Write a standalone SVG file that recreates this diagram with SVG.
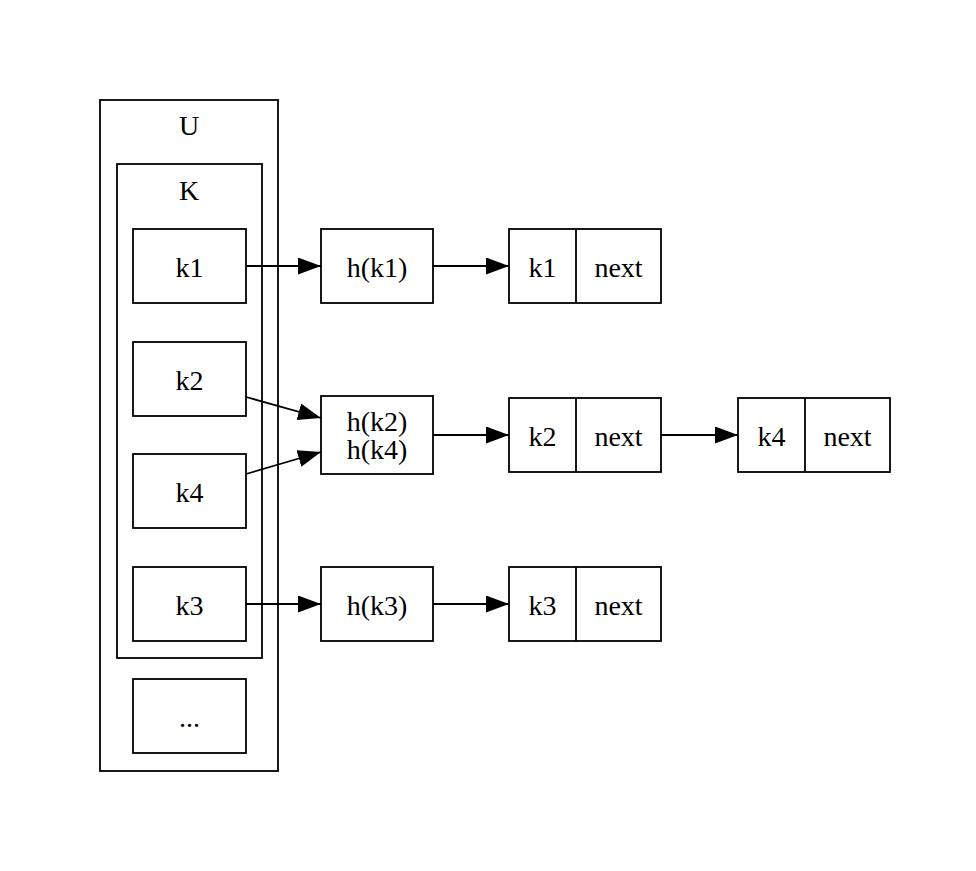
<svg xmlns="http://www.w3.org/2000/svg" width="976" height="871" viewBox="0 0 976 871">
<style>
rect{fill:none;stroke:#000;stroke-width:1.8}
line.d{stroke:#000;stroke-width:1.8}
text{font-family:"Liberation Serif","Times New Roman",serif;font-size:28px;text-anchor:middle;fill:#000}
.e line{stroke:#000;stroke-width:1.8}
</style>
<defs>
<marker id="ah" markerUnits="userSpaceOnUse" markerWidth="24" markerHeight="18" refX="23" refY="8.5" orient="auto">
<path d="M0,0 L23,8.5 L0,17 z" fill="#000"/>
</marker>
</defs>
<rect x="0" y="0" width="976" height="871" style="fill:#fff;stroke:none"/>
<g id="U"><rect x="100" y="100" width="178" height="671"/><text x="189" y="135">U</text></g>
<g id="K"><rect x="117" y="164" width="145" height="494"/><text x="189" y="200">K</text></g>
<g id="k1"><rect x="133" y="229" width="113" height="74"/><text x="189.5" y="277">k1</text></g>
<g id="k2"><rect x="133" y="342" width="113" height="74"/><text x="189.5" y="390">k2</text></g>
<g id="k4"><rect x="133" y="454" width="113" height="74"/><text x="189.5" y="502">k4</text></g>
<g id="k3"><rect x="133" y="567" width="113" height="74"/><text x="189.5" y="615">k3</text></g>
<g id="etc"><rect x="133" y="679" width="113" height="74"/><text x="189.5" y="727">...</text></g>
<g id="hk1"><rect x="321" y="229" width="112" height="74"/><text x="377" y="277">h(k1)</text></g>
<g id="hk24"><rect x="321" y="396" width="112" height="78"/><text x="377" y="431">h(k2)</text><text x="377" y="459">h(k4)</text></g>
<g id="hk3"><rect x="321" y="567" width="112" height="74"/><text x="377" y="615">h(k3)</text></g>
<g id="n1"><rect x="509" y="229" width="152" height="74"/><line class="d" x1="576" y1="229" x2="576" y2="303"/><text x="542.5" y="277">k1</text><text x="618.5" y="277">next</text></g>
<g id="n2"><rect x="509" y="398" width="152" height="74"/><line class="d" x1="576" y1="398" x2="576" y2="472"/><text x="542.5" y="446">k2</text><text x="618.5" y="446">next</text></g>
<g id="n4"><rect x="738" y="398" width="152" height="74"/><line class="d" x1="805" y1="398" x2="805" y2="472"/><text x="771.5" y="446">k4</text><text x="847.5" y="446">next</text></g>
<g id="n3"><rect x="509" y="567" width="152" height="74"/><line class="d" x1="576" y1="567" x2="576" y2="641"/><text x="542.5" y="615">k3</text><text x="618.5" y="615">next</text></g>
<g id="edges" class="e">
<line x1="246" y1="266" x2="321" y2="266" marker-end="url(#ah)"/>
<line x1="246" y1="397" x2="321" y2="418" marker-end="url(#ah)"/>
<line x1="246" y1="474" x2="321" y2="452" marker-end="url(#ah)"/>
<line x1="246" y1="604" x2="321" y2="604" marker-end="url(#ah)"/>
<line x1="433" y1="266" x2="509" y2="266" marker-end="url(#ah)"/>
<line x1="433" y1="435" x2="509" y2="435" marker-end="url(#ah)"/>
<line x1="433" y1="604" x2="509" y2="604" marker-end="url(#ah)"/>
<line x1="661" y1="435" x2="738" y2="435" marker-end="url(#ah)"/>
</g>
</svg>
